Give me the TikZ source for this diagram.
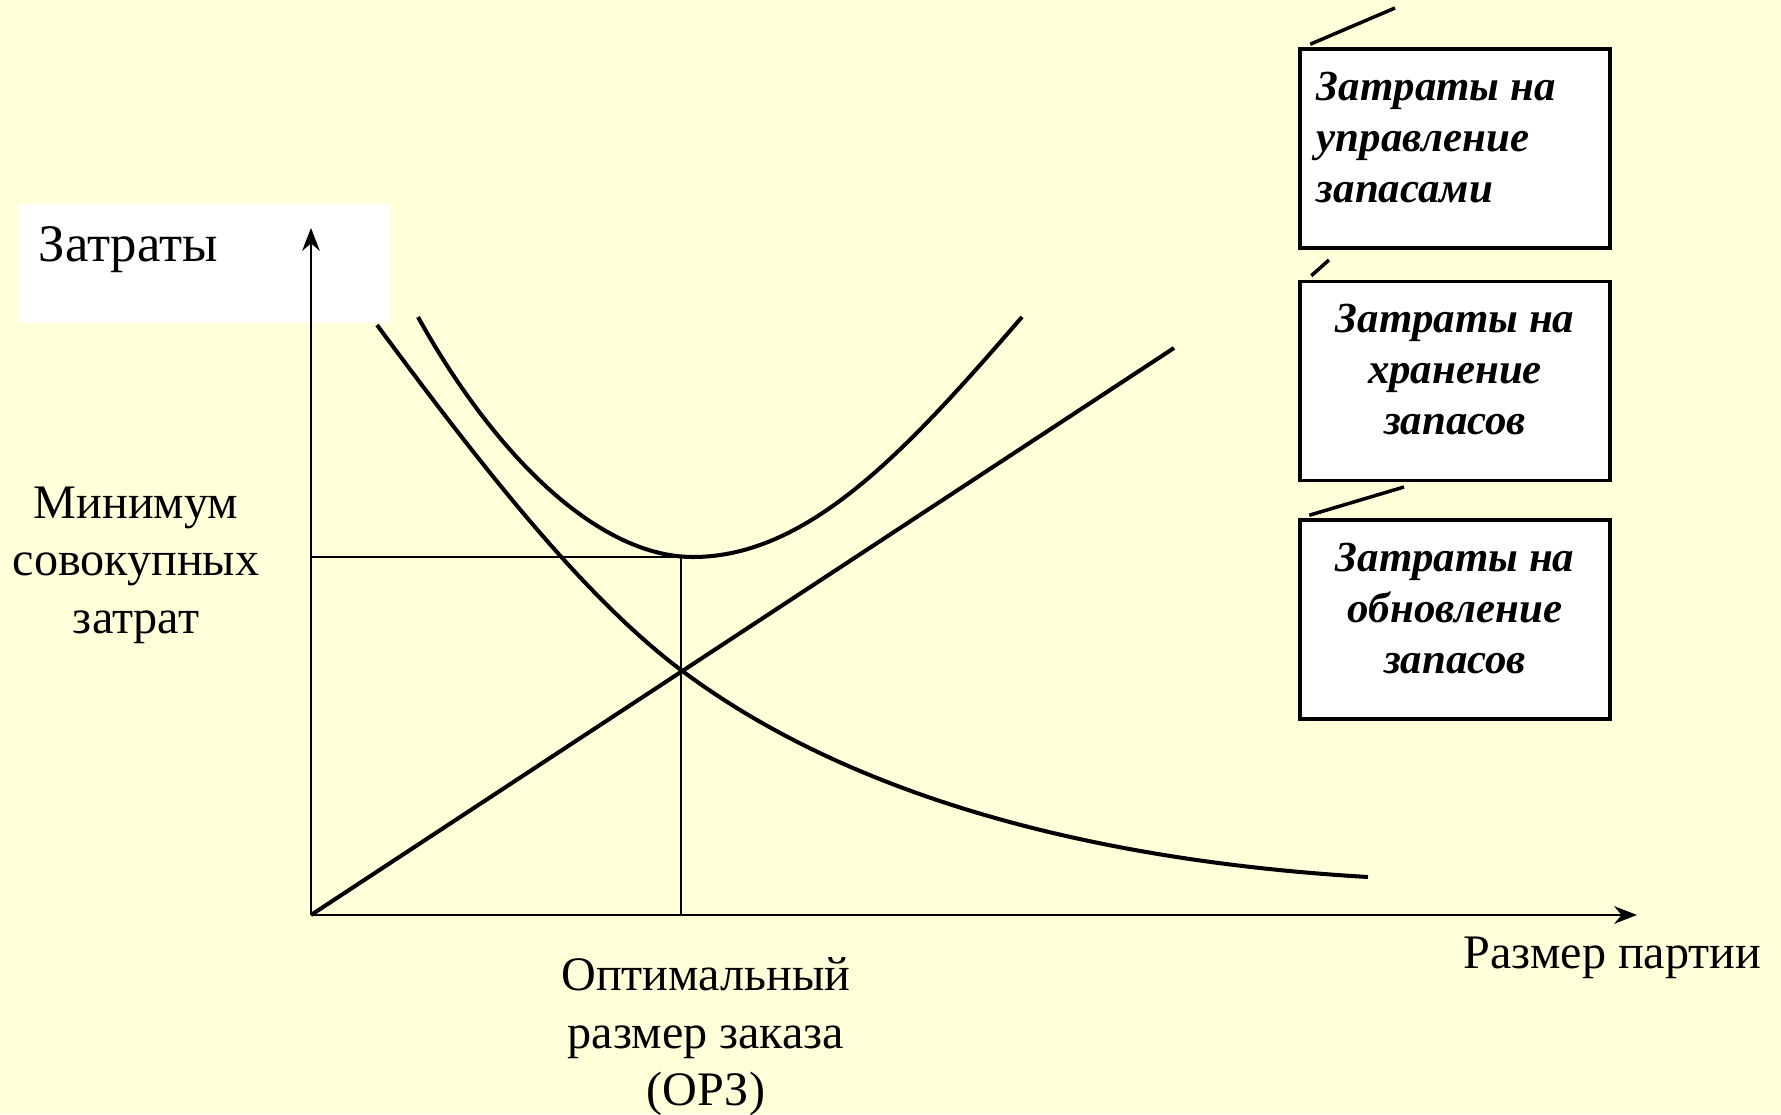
\documentclass[tikz,border=0pt]{standalone}
\usepackage{fontspec}
\setmainfont{Liberation Serif}
\usepackage{tikz}
\usetikzlibrary{arrows.meta,positioning}
\definecolor{paper}{RGB}{255,255,218}

\begin{document}
\begin{tikzpicture}[
  axis/.style={line width=0.6pt,-{Stealth[length=6.5pt,width=5pt]}},
  guide/.style={line width=0.6pt},
  curve/.style={line width=1.15pt},
  costbox/.style={draw,line width=1pt,fill=white,minimum width=3.1cm,minimum height=1.99cm,inner sep=0pt},
  boxtext/.style={inner sep=0pt,font=\fontsize{12.2}{14.5}\selectfont\bfseries\itshape},
  lbl/.style={inner sep=0pt,align=center,font=\fontsize{13.7}{16.4}\selectfont}]
% Slide background, the origin sits where the axes meet
\useasboundingbox (-3.11,-1.99) rectangle (14.70,9.15);
\fill[paper] (-3.11,-1.99) rectangle (14.70,9.15);
\fill[white] (-2.92,5.92) rectangle (0.79,7.11);
\node[lbl,anchor=base west,font=\fontsize{15}{18}\selectfont] (zatraty) at (-2.73,6.53) {Затраты};
% Axes
\coordinate (O) at (0,0);
\coordinate (ytop) at (0,6.87);
\coordinate (xend) at (13.26,0);
\draw[axis] (O) -- (ytop);
\draw[axis] (O) -- (xend);
% Lines down from the minimum of the total cost
\coordinate (min) at (3.70,3.58);
\draw[guide] (O |- min) -- (min) -- (min |- O);
% Holding costs grow linearly
\coordinate (hrend) at (8.63,5.67);
\draw[curve] (O) -- (hrend);
% Ordering costs fall as the lot grows, they cross the line at the optimum
\coordinate (cross) at (3.70,2.45);
\draw[curve] (0.66,5.90) .. controls (1.66,4.55) and (2.70,3.20) .. (cross)
  .. controls (5.70,0.95) and (8.50,0.50) .. (10.57,0.38);
% Total costs
\coordinate (bottom) at (3.82,3.58);
\draw[curve] (1.07,5.98) .. controls (1.87,4.54) and (2.90,3.58) .. (bottom)
  .. controls (5.00,3.58) and (6.00,4.70) .. (7.11,5.98);
% The three legend boxes
\node[costbox] (upravlenie) at (11.44,7.665) {};
\node[costbox,below=0.30cm of upravlenie] (hranenie) {};
\node[costbox,below=0.36cm of hranenie] (obnovlenie) {};
\node[boxtext,anchor=north west,align=left] (upravlenie-t) at ([shift={(0.18,-0.24)}]upravlenie.north west) {Затраты на\\управление\\запасами};
\node[boxtext,anchor=north,align=center] (hranenie-t) at ([yshift=-0.24cm]hranenie.north) {Затраты на\\хранение\\запасов};
\node[boxtext,anchor=north,align=center] (obnovlenie-t) at ([yshift=-0.24cm]obnovlenie.north) {Затраты на\\обновление\\запасов};
% Short leader strokes above each box
\coordinate (l1) at (10.84,9.07);
\coordinate (l2) at (10.18,6.55);
\coordinate (l3) at (10.93,4.28);
\draw[line width=1pt] ([shift={(0.12,0.03)}]upravlenie.north west) -- (l1);
\draw[line width=1pt] ([shift={(0.13,0.04)}]hranenie.north west) -- (l2);
\draw[line width=1pt] ([shift={(0.11,0.03)}]obnovlenie.north west) -- (l3);
% Axis labels
\node[lbl,anchor=north] (minimum) at (-1.75,4.29) {Минимум\\совокупных\\затрат};
\node[lbl,anchor=north] (orz) at (3.95,-0.42) {Оптимальный\\размер заказа\\(ОРЗ)};
\node[lbl,anchor=base west] (razmer) at (11.52,-0.53) {Размер партии};
\end{tikzpicture}
\end{document}
